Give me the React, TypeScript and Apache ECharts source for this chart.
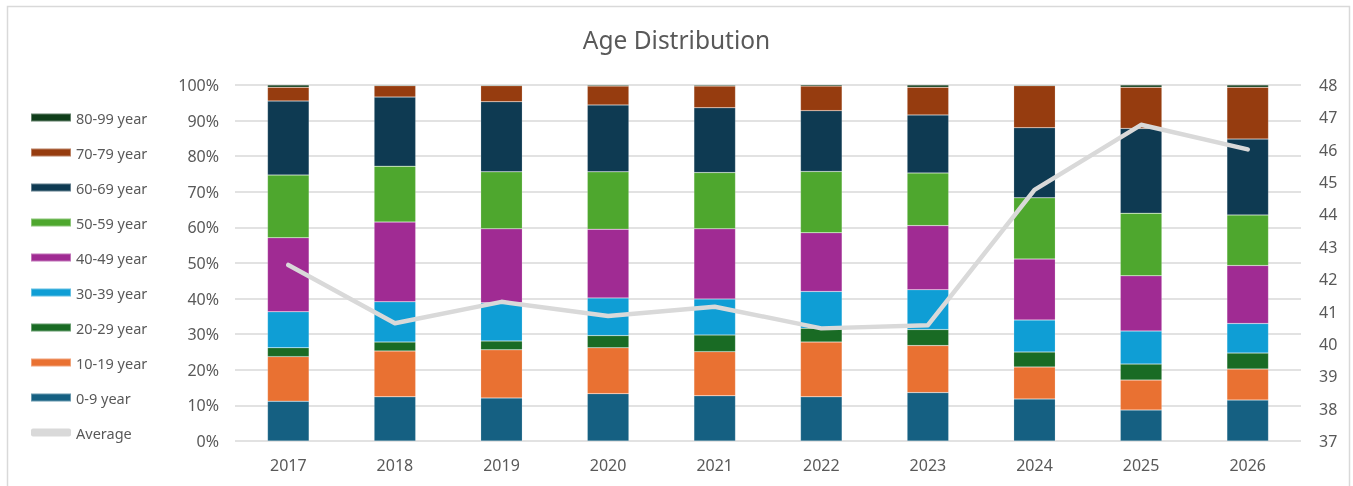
import React, { useEffect, useRef } from "react";
import * as echarts from "echarts";

const years = ["2017", "2018", "2019", "2020", "2021", "2022", "2023", "2024", "2025", "2026"];
const seriesNames = ["0-9 year", "10-19 year", "20-29 year", "30-39 year", "40-49 year", "50-59 year", "60-69 year", "70-79 year", "80-99 year"];
const age0_9 = [11.2, 12.4, 12.1, 13.3, 12.7, 12.4, 13.6, 11.8, 8.7, 11.5];
const age10_19 = [12.5, 12.9, 13.5, 12.9, 12.4, 15.4, 13.2, 9.0, 8.4, 8.7];
const age20_29 = [2.5, 2.5, 2.5, 3.4, 4.7, 3.9, 4.5, 4.2, 4.5, 4.5];
const age30_39 = [10.1, 11.3, 10.7, 10.6, 10.1, 10.3, 11.2, 9.0, 9.3, 8.3];
const age40_49 = [20.8, 22.4, 20.8, 19.3, 19.7, 16.5, 18.0, 17.1, 15.5, 16.3];
const age50_59 = [17.6, 15.7, 16.0, 16.1, 15.8, 17.2, 14.8, 17.2, 17.6, 14.2];
const age60_69 = [20.8, 19.4, 19.7, 18.8, 18.2, 17.1, 16.3, 19.7, 23.8, 21.3];
const age70_79 = [3.9, 3.2, 4.5, 5.3, 6.1, 6.9, 7.8, 11.8, 11.6, 14.6];
const age80_99 = [0.6, 0.2, 0.2, 0.3, 0.3, 0.4, 0.6, 0.2, 0.6, 0.6];
const average = [42.44, 40.64, 41.3, 40.86, 41.15, 40.48, 40.58, 44.76, 46.77, 46.01];
const leftTicks = { min: 0, max: 100, interval: 10 };
const rightTicks = { min: 37, max: 48, interval: 1 };

const colors = ["#156082", "#E97132", "#196B24", "#0F9ED5", "#A02B93", "#4EA72E", "#0E3A52", "#963C0F", "#0F3D1A"];
const FONT = "'Noto Sans', sans-serif";
const TEXT = "#595959";

export default function App() {
  const ref = useRef<HTMLDivElement>(null);
  useEffect(() => {
    document.body.style.margin = "0";
    const chart = echarts.init(ref.current!, null, { renderer: "svg" });
    const values = [age0_9, age10_19, age20_29, age30_39, age40_49, age50_59, age60_69, age70_79, age80_99];
    const barSeries = seriesNames.map((name, i) => ({
      name,
      type: "bar",
      stack: "total",
      barWidth: "39%",
      data: values[i],
      itemStyle: { color: colors[i], borderColor: "rgba(255,255,255,0.35)", borderWidth: 0.5 },
    }));
    chart.setOption({
      animation: false,
      textStyle: { fontFamily: FONT },
      title: {
        text: "Age Distribution",
        left: "center",
        top: 22,
        textStyle: { fontFamily: FONT, fontSize: 24.5, fontWeight: "normal", color: TEXT },
      },
      graphic: [
        {
          type: "rect",
          shape: { x: 7.5, y: 6.5, width: 1342, height: 500 },
          style: { fill: "none", stroke: "#d9d9d9", lineWidth: 1.5 },
          silent: true,
        },
      ],
      legend: {
        orient: "vertical",
        left: 30,
        top: 110,
        padding: 0,
        itemGap: 20,
        itemWidth: 40,
        itemHeight: 8,
        textStyle: { fontFamily: FONT, fontSize: 14.5, color: TEXT },
        data: [
          ...seriesNames.slice().reverse().map((n) => ({ name: n, icon: "rect" })),
          { name: "Average", icon: "roundRect", itemStyle: { color: "#d9d9d9" } },
        ],
      },
      grid: { left: 235, right: 52, top: 85, bottom: 45, containLabel: false },
      xAxis: {
        type: "category",
        data: years,
        axisLine: { show: false },
        axisTick: { show: false },
        axisLabel: { color: TEXT, fontSize: 16, fontFamily: FONT, margin: 16 },
      },
      yAxis: [
        {
          type: "value",
          min: leftTicks.min,
          max: leftTicks.max,
          interval: leftTicks.interval,
          axisLabel: { formatter: "{value}%", color: TEXT, fontSize: 16, fontFamily: FONT, margin: 16 },
          splitLine: { lineStyle: { color: "#d9d9d9", width: 1.5 } },
          axisLine: { show: false },
          axisTick: { show: false },
        },
        {
          type: "value",
          min: rightTicks.min,
          max: rightTicks.max,
          interval: rightTicks.interval,
          position: "right",
          axisLabel: { color: TEXT, fontSize: 16, fontFamily: FONT, margin: 18 },
          splitLine: { show: false },
          axisLine: { show: false },
          axisTick: { show: false },
        },
      ],
      series: [
        ...barSeries,
        {
          name: "Average",
          type: "line",
          yAxisIndex: 1,
          data: average,
          showSymbol: false,
          symbol: "none",
          lineStyle: { color: "#d9d9d9", width: 4.5, cap: "round", join: "round" },
          itemStyle: { color: "#d9d9d9" },
          z: 5,
        },
      ],
    });
    return () => chart.dispose();
  }, []);
  return <div ref={ref} style={{ position: "fixed", left: 0, top: 0, width: 1353, height: 486 }} />;
}
